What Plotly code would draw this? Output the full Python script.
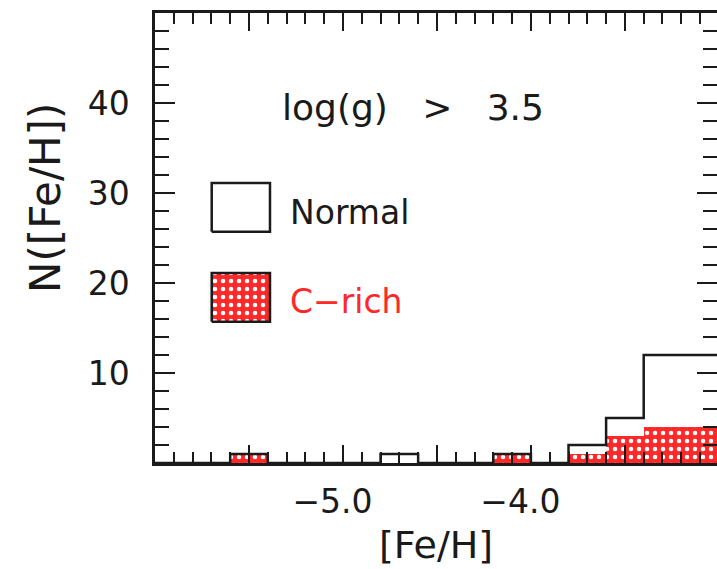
import plotly.graph_objects as go

# ---- data ----
bin_left = [-6.0, -5.8, -5.6, -5.4, -5.2, -5.0, -4.8, -4.6, -4.4, -4.2, -4.0, -3.8, -3.6, -3.4, -3.2]
bin_width = 0.2
normal_counts = [0, 0, 1, 0, 0, 0, 1, 0, 0, 1, 0, 2, 5, 12, 12]
crich_counts = [0, 0, 1, 0, 0, 0, 0, 0, 0, 1, 0, 1, 3, 4, 4]
x_major_ticks = [-6.0, -5.5, -5.0, -4.5, -4.0, -3.5, -3.0]
x_major_text = ["", "", "\u22125.0", "", "\u22124.0", "", ""]
y_major_ticks = [0, 10, 20, 30, 40]
y_major_text = ["", "10", "20", "30", "40"]

RED = "#ff2828"
INK = "#1a1a1a"
FONT = "DejaVu Sans"
NB = "\u00a0"

edges = bin_left + [bin_left[-1] + bin_width]
step_y = normal_counts + [normal_counts[-1]]
centers = [b + bin_width / 2 for b in bin_left]

fig = go.Figure()

fig.add_trace(go.Bar(
    x=centers, y=crich_counts, width=bin_width,
    marker=dict(color=RED, line=dict(width=0),
                pattern=dict(shape=".", fgcolor="white", bgcolor=RED,
                             size=8, solidity=0.25, fillmode="replace")),
    showlegend=False,
))
fig.add_trace(go.Scatter(
    x=edges, y=step_y, mode="lines", line=dict(color=INK, width=2.5, shape="hv"),
    showlegend=False, cliponaxis=True,
))
# dummy trace for mirrored axes
fig.add_trace(go.Scatter(x=[None], y=[None], xaxis="x2", yaxis="y2", showlegend=False,
                         hoverinfo="skip"))

# legend swatches on a hidden unit axis
fig.add_trace(go.Scatter(
    x=[0.1009, 0.2046, 0.2046, 0.1009, 0.1009], y=[0.514, 0.514, 0.622, 0.622, 0.514],
    xaxis="x3", yaxis="y3", mode="lines", fill="toself", fillcolor="white",
    line=dict(color=INK, width=2.5), showlegend=False, hoverinfo="skip"))
fig.add_trace(go.Scatter(
    x=[0.1009, 0.2046, 0.2046, 0.1009, 0.1009], y=[0.314, 0.314, 0.422, 0.422, 0.314],
    xaxis="x3", yaxis="y3", mode="lines", fill="toself", fillcolor=RED,
    fillpattern=dict(shape=".", fgcolor="white", bgcolor=RED, size=8, solidity=0.25,
                     fillmode="replace"),
    line=dict(color=INK, width=2.5), showlegend=False, hoverinfo="skip"))

xr = [-6.0, -3.01]
yr = [0, 50]
tickfont = dict(family=FONT, size=33, color=INK)

common_x = dict(range=xr, showgrid=False, zeroline=False, showline=True, linecolor=INK,
                linewidth=2.5, ticks="inside", tickvals=x_major_ticks, ticklen=18,
                tickwidth=2, tickcolor=INK,
                minor=dict(tick0=-6.0, dtick=0.1, ticks="inside", ticklen=11, tickwidth=2,
                           tickcolor=INK, showgrid=False))
common_y = dict(range=yr, showgrid=False, zeroline=False, linecolor=INK, linewidth=2.5,
                ticks="inside", tickvals=y_major_ticks, ticklen=20, tickwidth=2, tickcolor=INK,
                minor=dict(tick0=0, dtick=2, ticks="inside", ticklen=14, tickwidth=2,
                           tickcolor=INK, showgrid=False))

fig.update_layout(
    width=717, height=569,
    margin=dict(l=155, r=0, t=13, b=106),
    paper_bgcolor="white", plot_bgcolor="white",
    bargap=0,
    xaxis=dict(**common_x, ticktext=[t + NB * 2 if t else t for t in x_major_text],
               tickfont=tickfont, ticklabelstandoff=8),
    xaxis2=dict(**common_x, overlaying="x", side="top", anchor="y2", showticklabels=False),
    yaxis=dict(**common_y, showline=True, ticktext=y_major_text, tickfont=tickfont,
               ticklabelstandoff=16),
    yaxis2=dict(**common_y, showline=False, overlaying="y", side="right", anchor="x2",
                showticklabels=False),
    xaxis3=dict(range=[0, 1], visible=False, overlaying="x", fixedrange=True),
    yaxis3=dict(range=[0, 1], visible=False, overlaying="y", fixedrange=True),
    showlegend=False,
    annotations=[
        dict(text="log(g)" + NB * 3 + ">" + NB * 3 + "3.5", xref="paper", yref="paper",
             x=(280 - 155) / 562, y=0.789, xanchor="left", yanchor="middle", showarrow=False,
             font=dict(family=FONT, size=36, color=INK)),
        dict(text="Normal", xref="paper", yref="paper", x=(288 - 155) / 562, y=0.5556,
             xanchor="left", yanchor="middle", showarrow=False,
             font=dict(family=FONT, size=33, color=INK)),
        dict(text="C\u2212rich", xref="paper", yref="paper", x=(288 - 155) / 562, y=0.3596,
             xanchor="left", yanchor="middle", showarrow=False,
             font=dict(family=FONT, size=33, color=RED)),
        dict(text="[Fe/H]", xref="paper", yref="paper", x=(436 - 155) / 562,
             y=(463 - 545) / 450, xanchor="center", yanchor="middle", showarrow=False,
             font=dict(family=FONT, size=38, color=INK)),
        dict(text="N([Fe/H])", xref="paper", yref="paper", x=(45 - 155) / 562,
             y=(463 - 198) / 450, xanchor="center", yanchor="middle", textangle=-90,
             showarrow=False, font=dict(family=FONT, size=42, color=INK)),
    ],
)

fig.write_html("out.html", config={"displayModeBar": False},
               post_script="document.body.style.margin='0';")
